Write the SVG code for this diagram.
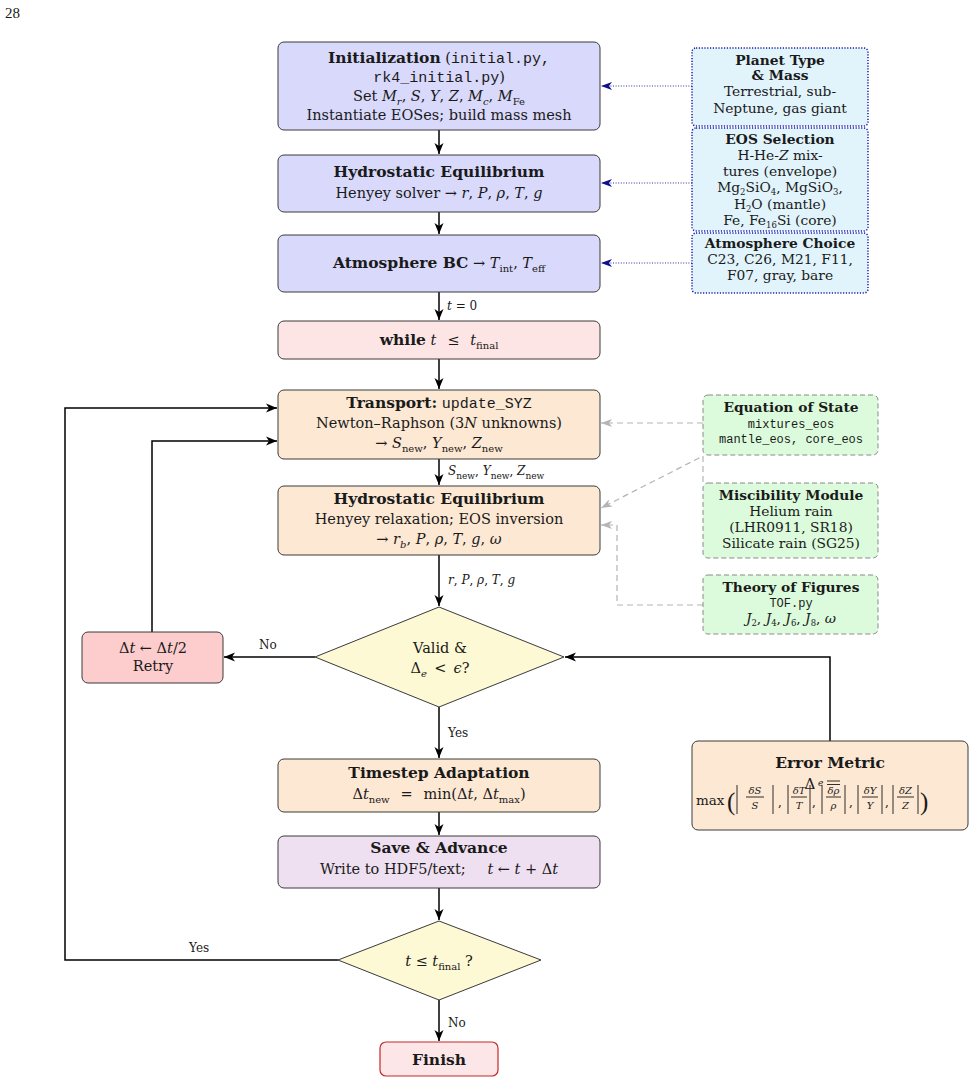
<svg xmlns="http://www.w3.org/2000/svg" width="976" height="1083" viewBox="0 0 976 1083">
<style>
text{font-family:"DejaVu Serif","Liberation Serif",serif;fill:#1a1a1a}
.t{font-size:14.5px;text-anchor:middle}
.sm{font-size:13.8px;text-anchor:middle}
.b{font-weight:bold}
.hb{font-weight:bold;font-size:15.5px}
.i{font-style:italic}
.m{font-family:"Liberation Mono","DejaVu Sans Mono",monospace}
.sub{font-size:10px;baseline-shift:-4px}
.ss{font-size:8.5px;baseline-shift:-2.5px}
.lab{font-size:12px;text-anchor:start}
.node{stroke:#3a3a3a;stroke-width:1}
.blue{fill:#d9d9fb}
.peach{fill:#fde8d4}
.pink{fill:#fde5e6}
.yel{fill:#fdf9d4}
.side{fill:#e1f3fb;stroke:#1c1caa;stroke-width:1.5;stroke-dasharray:1.2 1.6}
.grn{fill:#dcfbdc;stroke:#8a8a8a;stroke-width:1;stroke-dasharray:5 3}
.e{fill:none;stroke:#000;stroke-width:1.5}
.nv{fill:none;stroke:#3030a0;stroke-width:1;stroke-dasharray:1 1.6}
.gr{fill:none;stroke:#b4b4b4;stroke-width:1.2;stroke-dasharray:6 4}
.fr{font-size:10px;font-style:italic;text-anchor:middle}
.bar{stroke:#1a1a1a;stroke-width:0.9}
.par{font-family:"Liberation Serif",serif;font-size:25px}
</style>
<defs>
<marker id="ak" markerUnits="userSpaceOnUse" markerWidth="12" markerHeight="12" viewBox="0 0 12 12" refX="11" refY="6" orient="auto"><path d="M0,1.5 L11,6 L0,10.5 L3,6 z" fill="#000"/></marker>
<marker id="an" markerUnits="userSpaceOnUse" markerWidth="12" markerHeight="12" viewBox="0 0 12 12" refX="11" refY="6" orient="auto"><path d="M0,2 L11,6 L0,10 L3,6 z" fill="#10108a"/></marker>
<marker id="ag" markerUnits="userSpaceOnUse" markerWidth="12" markerHeight="12" viewBox="0 0 12 12" refX="11" refY="6" orient="auto"><path d="M0,2 L11,6 L0,10 L3,6 z" fill="#b4b4b4"/></marker>
</defs>
<rect width="976" height="1083" fill="#fff"/>
<text x="5" y="18" style="font-family:'Liberation Serif',serif;font-size:15px">28</text>

<g id="connectors">
<path class="e" d="M439,130 V154" marker-end="url(#ak)"/>
<path class="e" d="M439,212 V234" marker-end="url(#ak)"/>
<path class="e" d="M439,292 V320" marker-end="url(#ak)"/>
<path class="e" d="M439,359 V389" marker-end="url(#ak)"/>
<path class="e" d="M439,459 V485" marker-end="url(#ak)"/>
<path class="e" d="M439,555 V606" marker-end="url(#ak)"/>
<path class="e" d="M439,707 V758" marker-end="url(#ak)"/>
<path class="e" d="M439,812 V835" marker-end="url(#ak)"/>
<path class="e" d="M439,888 V920" marker-end="url(#ak)"/>
<path class="e" d="M439,1000 V1041" marker-end="url(#ak)"/>
<path class="e" d="M315,657 H224" marker-end="url(#ak)"/>
<path class="e" d="M152,632 V441 H277" marker-end="url(#ak)"/>
<path class="e" d="M338,960 H65 V408 H277" marker-end="url(#ak)"/>
<path class="e" d="M830,741 V657 H565" marker-end="url(#ak)"/>
<path class="nv" d="M692,86 H601" marker-end="url(#an)"/>
<path class="nv" d="M692,183 H601" marker-end="url(#an)"/>
<path class="nv" d="M692,263 H601" marker-end="url(#an)"/>
<path class="gr" d="M703,423 H601" marker-end="url(#ag)"/>
<path class="gr" d="M703,482 V456 L601,508" marker-end="url(#ag)"/>
<path class="gr" d="M703,605 H617 V525 H601" marker-end="url(#ag)"/>
<text class="lab" x="447" y="310"><tspan class="i">t</tspan> = 0</text>
<text class="lab" x="448" y="475"><tspan class="i">S</tspan><tspan class="sub" style="font-size:9px">new</tspan>, <tspan class="i">Y</tspan><tspan class="sub" style="font-size:9px">new</tspan>, <tspan class="i">Z</tspan><tspan class="sub" style="font-size:9px">new</tspan></text>
<text class="lab" x="448" y="584"><tspan class="i">r</tspan>, <tspan class="i">P</tspan>, <tspan class="i">ρ</tspan>, <tspan class="i">T</tspan>, <tspan class="i">g</tspan></text>
<text class="lab" x="448" y="737">Yes</text>
<text class="lab" x="448" y="1027">No</text>
<text class="lab" x="259" y="649">No</text>
<text class="lab" x="189" y="952">Yes</text>
</g>

<g id="n-init">
<rect class="node blue" x="278" y="42" width="322" height="88" rx="6"/>
<text class="t" x="439" y="63"><tspan class="hb">Initialization</tspan> (<tspan class="m" style="font-size:15px">initial.py,</tspan></text>
<text class="t" x="439" y="82"><tspan class="m" style="font-size:15px">rk4_initial.py</tspan>)</text>
<text class="t" x="439" y="101">Set <tspan class="i">M</tspan><tspan class="sub i">r</tspan>, <tspan class="i">S</tspan>, <tspan class="i">Y</tspan>, <tspan class="i">Z</tspan>, <tspan class="i">M</tspan><tspan class="sub i">c</tspan>, <tspan class="i">M</tspan><tspan class="sub">Fe</tspan></text>
<text class="t" x="439" y="120">Instantiate EOSes; build mass mesh</text>
</g>

<g id="n-hydro1">
<rect class="node blue" x="278" y="155" width="322" height="57" rx="6"/>
<text class="t" x="439" y="177"><tspan class="hb">Hydrostatic Equilibrium</tspan></text>
<text class="t" x="439" y="198">Henyey solver → <tspan class="i">r</tspan>, <tspan class="i">P</tspan>, <tspan class="i">ρ</tspan>, <tspan class="i">T</tspan>, <tspan class="i">g</tspan></text>
</g>

<g id="n-atm">
<rect class="node blue" x="278" y="235" width="322" height="57" rx="6"/>
<text class="t" x="439" y="268"><tspan class="hb">Atmosphere BC</tspan> → <tspan class="i">T</tspan><tspan class="sub">int</tspan>, <tspan class="i">T</tspan><tspan class="sub">eff</tspan></text>
</g>

<g id="n-while">
<rect class="node pink" x="278" y="321" width="322" height="38" rx="6"/>
<text class="t" x="439" y="345"><tspan class="hb">while</tspan> <tspan class="i">t</tspan>&#8194;&#8197;≤&#8194;&#8197;<tspan class="i">t</tspan><tspan class="sub">final</tspan></text>
</g>

<g id="n-transport">
<rect class="node peach" x="278" y="390" width="322" height="69" rx="6"/>
<text class="t" x="439" y="408"><tspan class="hb">Transport:</tspan> <tspan class="m" style="font-size:15px">update_SYZ</tspan></text>
<text class="t" x="439" y="428">Newton–Raphson (3<tspan class="i">N</tspan> unknowns)</text>
<text class="t" x="439" y="448">→ <tspan class="i">S</tspan><tspan class="sub">new</tspan>, <tspan class="i">Y</tspan><tspan class="sub">new</tspan>, <tspan class="i">Z</tspan><tspan class="sub">new</tspan></text>
</g>

<g id="n-hydro2">
<rect class="node peach" x="278" y="486" width="322" height="69" rx="6"/>
<text class="t" x="439" y="504"><tspan class="hb">Hydrostatic Equilibrium</tspan></text>
<text class="t" x="439" y="524">Henyey relaxation; EOS inversion</text>
<text class="t" x="439" y="544">→ <tspan class="i">r</tspan><tspan class="sub i">b</tspan>, <tspan class="i">P</tspan>, <tspan class="i">ρ</tspan>, <tspan class="i">T</tspan>, <tspan class="i">g</tspan>, <tspan class="i">ω</tspan></text>
</g>

<g id="n-valid">
<polygon class="node yel" points="439,607 564,657 439,707 315,657"/>
<text class="t" x="440" y="653">Valid &amp;</text>
<text class="t" x="440" y="673">Δ<tspan class="sub i">e</tspan>&#8194;&lt;&#8194;<tspan class="i">ϵ</tspan>?</text>
</g>

<g id="n-retry">
<rect class="node" fill="#fdcccc" x="82" y="632" width="141" height="51" rx="6"/>
<text class="t" x="153" y="653">Δ<tspan class="i">t</tspan> ← Δ<tspan class="i">t</tspan>/2</text>
<text class="t" x="153" y="671">Retry</text>
</g>

<g id="n-timestep">
<rect class="node peach" x="278" y="759" width="322" height="53" rx="6"/>
<text class="t" x="439" y="778"><tspan class="hb">Timestep Adaptation</tspan></text>
<text class="t" x="439" y="799">Δ<tspan class="i">t</tspan><tspan class="sub">new</tspan>&#8194;&#8197;=&#8194;&#8197;min(Δ<tspan class="i">t</tspan>, Δ<tspan class="i">t</tspan><tspan class="sub">max</tspan>)</text>
</g>

<g id="n-save">
<rect class="node" fill="#eedff1" x="278" y="836" width="322" height="52" rx="6"/>
<text class="t" x="439" y="853"><tspan class="hb">Save &amp; Advance</tspan></text>
<text class="t" x="439" y="874">Write to HDF5/text;&#8195;&#8194;<tspan class="i">t</tspan> ← <tspan class="i">t</tspan> + Δ<tspan class="i">t</tspan></text>
</g>

<g id="n-tfinal">
<polygon class="node yel" points="439,921 541,960 439,1000 338,960"/>
<text class="t" x="439" y="966"><tspan class="i">t</tspan> ≤ <tspan class="i">t</tspan><tspan class="sub">final</tspan> ?</text>
</g>

<g id="n-finish">
<rect fill="#fde6e8" stroke="#c62828" stroke-width="1.2" x="380" y="1042" width="118" height="34" rx="6"/>
<text class="t" x="439" y="1065"><tspan class="hb">Finish</tspan></text>
</g>

<g id="n-planet">
<rect class="side" x="692" y="48" width="176" height="78" rx="4"/>
<text class="sm" x="780" y="65"><tspan class="b">Planet Type</tspan></text>
<text class="sm" x="780" y="80"><tspan class="b">&amp; Mass</tspan></text>
<text class="sm" x="780" y="96">Terrestrial, sub-</text>
<text class="sm" x="780" y="113">Neptune, gas giant</text>
</g>

<g id="n-eossel">
<rect class="side" x="692" y="128" width="176" height="103" rx="4"/>
<text class="sm" x="780" y="144"><tspan class="b">EOS Selection</tspan></text>
<text class="sm" x="780" y="160">H-He-<tspan class="i">Z</tspan> mix-</text>
<text class="sm" x="780" y="176">tures (envelope)</text>
<text class="sm" x="780" y="192">Mg<tspan class="ss">2</tspan>SiO<tspan class="ss">4</tspan>, MgSiO<tspan class="ss">3</tspan>,</text>
<text class="sm" x="780" y="209">H<tspan class="ss">2</tspan>O (mantle)</text>
<text class="sm" x="780" y="225">Fe, Fe<tspan class="ss">16</tspan>Si (core)</text>
</g>

<g id="n-atmchoice">
<rect class="side" x="692" y="233" width="176" height="60" rx="4"/>
<text class="sm" x="780" y="248"><tspan class="b">Atmosphere Choice</tspan></text>
<text class="sm" x="780" y="264">C23, C26, M21, F11,</text>
<text class="sm" x="780" y="280">F07, gray, bare</text>
</g>

<g id="n-eos">
<rect class="grn" x="703" y="395" width="175" height="60" rx="5"/>
<text class="sm" x="791" y="412"><tspan class="b">Equation of State</tspan></text>
<text class="sm m" x="791" y="428" style="font-size:12px">mixtures_eos</text>
<text class="sm m" x="791" y="443" style="font-size:12px">mantle_eos, core_eos</text>
</g>

<g id="n-misc">
<rect class="grn" x="703" y="483" width="175" height="75" rx="5"/>
<text class="sm" x="791" y="500"><tspan class="b">Miscibility Module</tspan></text>
<text class="sm" x="791" y="516">Helium rain</text>
<text class="sm" x="791" y="532">(LHR0911, SR18)</text>
<text class="sm" x="791" y="548">Silicate rain (SG25)</text>
</g>

<g id="n-tof">
<rect class="grn" x="703" y="575" width="175" height="59" rx="5"/>
<text class="sm" x="791" y="592"><tspan class="b">Theory of Figures</tspan></text>
<text class="sm m" x="791" y="607" style="font-size:12px">TOF.py</text>
<text class="sm" x="791" y="623"><tspan class="i">J</tspan><tspan class="ss">2</tspan>, <tspan class="i">J</tspan><tspan class="ss">4</tspan>, <tspan class="i">J</tspan><tspan class="ss">6</tspan>, <tspan class="i">J</tspan><tspan class="ss">8</tspan>, <tspan class="i">ω</tspan></text>
</g>

<g id="n-error">
<rect class="node peach" x="692" y="741" width="276" height="89" rx="6"/>
<text class="t" x="830" y="768"><tspan class="hb">Error Metric</tspan></text>
<text x="696" y="805" style="font-size:13.5px">max</text>
<text class="par" x="727" y="810">(</text>
<text class="par" x="920" y="810">)</text>
<g class="bar">
<line x1="737" y1="785" x2="737" y2="814"/><line x1="773" y1="785" x2="773" y2="814"/>
<line x1="746" y1="797" x2="764" y2="797"/>
<line x1="788" y1="785" x2="788" y2="814"/><line x1="810" y1="785" x2="810" y2="814"/>
<line x1="791" y1="797" x2="807" y2="797"/>
<line x1="822" y1="785" x2="822" y2="814"/><line x1="845" y1="785" x2="845" y2="814"/>
<line x1="826" y1="797" x2="841" y2="797"/>
<line x1="858" y1="785" x2="858" y2="814"/><line x1="882" y1="785" x2="882" y2="814"/>
<line x1="862" y1="797" x2="878" y2="797"/>
<line x1="893" y1="785" x2="893" y2="814"/><line x1="918" y1="785" x2="918" y2="814"/>
<line x1="897" y1="797" x2="914" y2="797"/>
<line x1="827" y1="781" x2="840" y2="781"/><line x1="827" y1="784.5" x2="840" y2="784.5"/>
</g>
<text class="fr" x="755" y="794">δS</text><text class="fr" x="755" y="809">S</text>
<text class="fr" x="799" y="794">δT</text><text class="fr" x="799" y="809">T</text>
<text class="fr" x="833.5" y="794">δρ</text><text class="fr" x="833.5" y="809">ρ</text>
<text class="fr" x="870" y="794">δY</text><text class="fr" x="870" y="809">Y</text>
<text class="fr" x="905.5" y="794">δZ</text><text class="fr" x="905.5" y="809">Z</text>
<text x="778" y="806" style="font-size:12px">,</text>
<text x="812" y="806" style="font-size:12px">,</text>
<text x="849" y="806" style="font-size:12px">,</text>
<text x="885" y="806" style="font-size:12px">,</text>
<text x="810" y="789" style="font-size:15px;text-anchor:middle">Δ</text>
<text x="818" y="786" style="font-size:9px;font-style:italic">e</text>
</g>
</svg>
